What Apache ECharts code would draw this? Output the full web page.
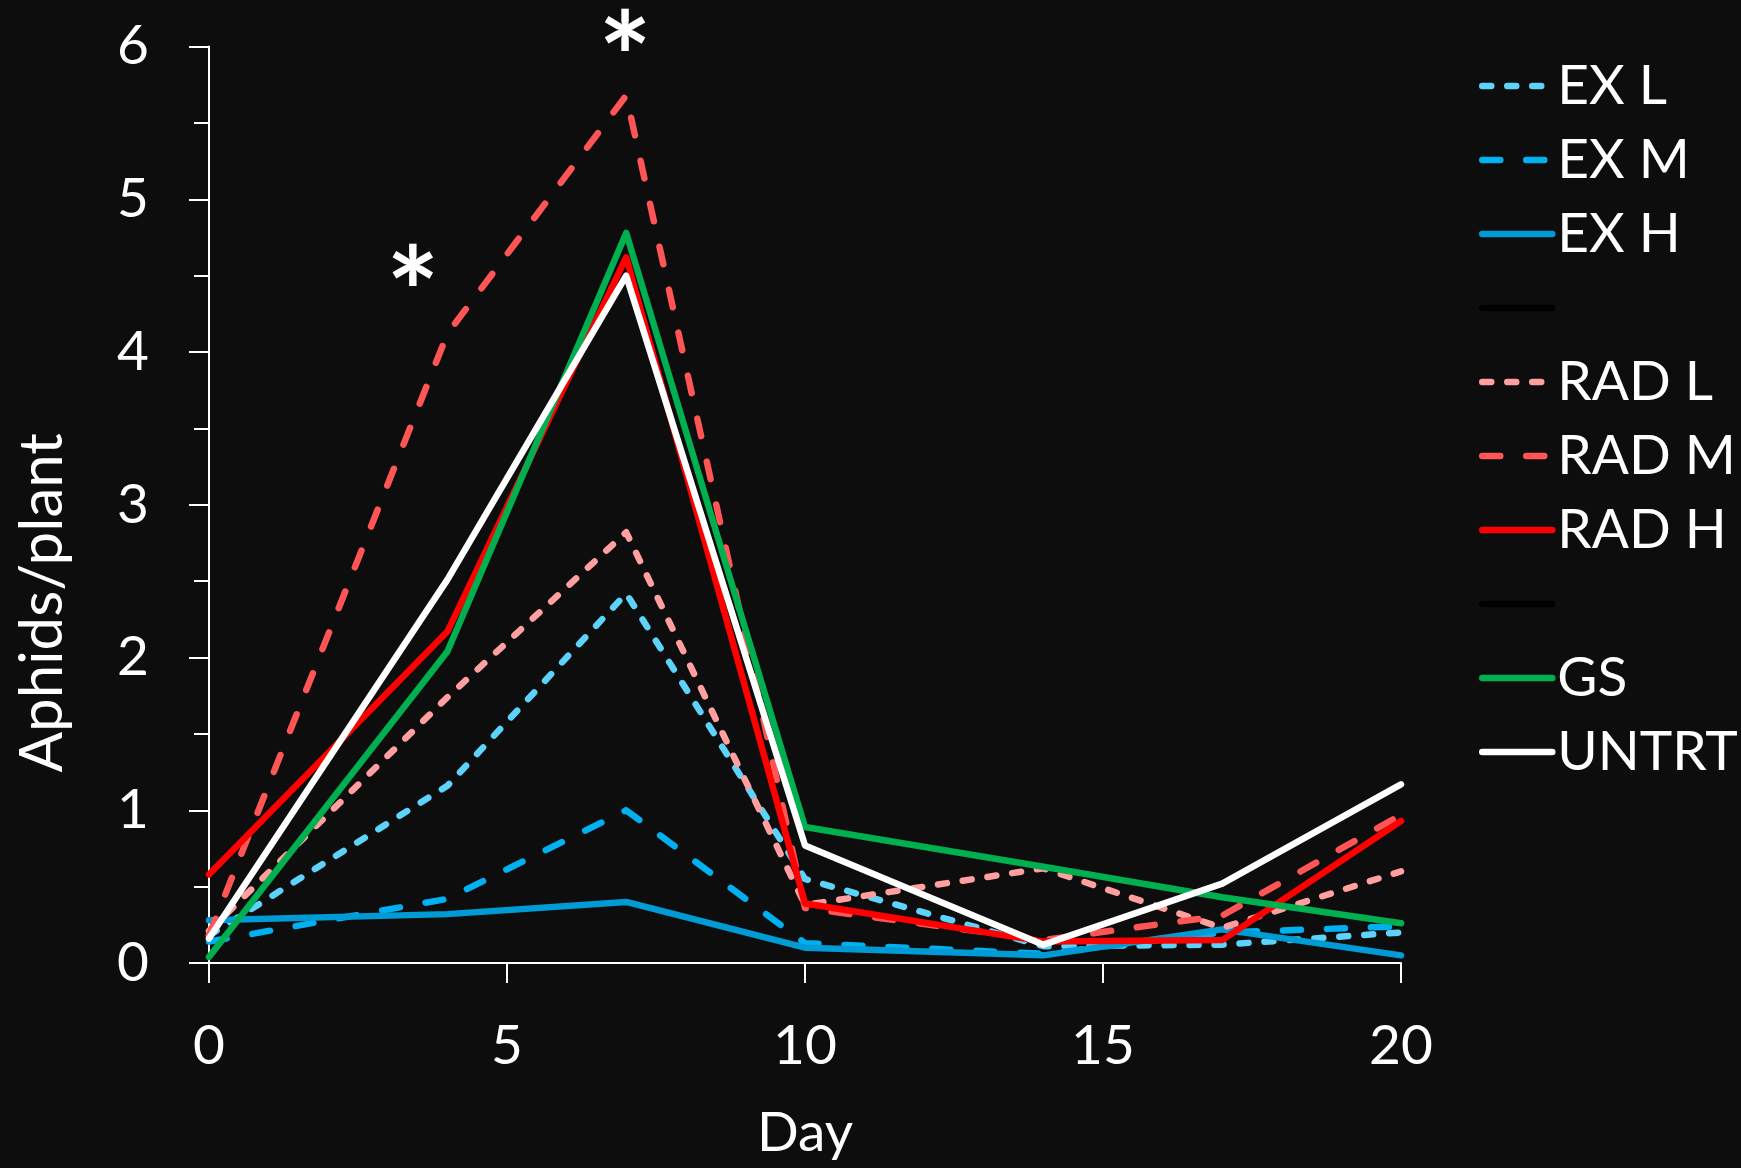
<!DOCTYPE html>
<html><head><meta charset="utf-8">
<script src="https://cdn.jsdelivr.net/npm/echarts@6/dist/echarts.min.js"></script>
<style>html,body{margin:0;padding:0;background:#0d0d0d;}#c{width:1741px;height:1168px;}</style>
</head><body><div id="c"></div>
<script>
const days = [0, 4, 7, 10, 14, 17, 20];
const exL = [0.18, 1.16, 2.42, 0.55, 0.11, 0.12, 0.20];
const exM = [0.14, 0.42, 1.00, 0.13, 0.06, 0.20, 0.24];
const exH = [0.28, 0.32, 0.40, 0.10, 0.05, 0.22, 0.05];
const radL = [0.21, 1.74, 2.82, 0.38, 0.62, 0.23, 0.60];
const radM = [0.18, 4.12, 5.68, 0.36, 0.15, 0.31, 0.97];
const radH = [0.58, 2.17, 4.62, 0.39, 0.14, 0.15, 0.93];
const gs = [0.04, 2.04, 4.78, 0.89, 0.63, 0.43, 0.26];
const untrt = [0.16, 2.51, 4.50, 0.77, 0.12, 0.52, 1.17];
const legendNames = ['EX L', 'EX M', 'EX H', ' ', 'RAD L', 'RAD M', 'RAD H', '  ', 'GS', 'UNTRT'];
const stars = [[3.42, 4.58], [6.98, 6.12]];

const FONT = 'Lato';
const W = 6.5;
const shortDash = [9, 16];
const longDash = [18, 26];

function mk(name, vals, color, dash) {
  return {
    name: name, type: 'line', symbol: 'none', smooth: false,
    data: vals ? days.map((d, i) => [d, vals[i]]) : [],
    itemStyle: { color: color },
    lineStyle: { color: color, width: W, type: dash || 'solid', cap: 'round', join: 'round' },
    emphasis: { disabled: true }
  };
}

const chart = echarts.init(document.getElementById('c'));
chart.setOption({
  backgroundColor: '#0d0d0d',
  animation: false,
  textStyle: { fontFamily: FONT },
  grid: { left: 209, right: 340, top: 46.6, bottom: 205, containLabel: false },
  legend: {
    orient: 'vertical', left: 1479, top: 56, padding: 0,
    itemWidth: 70, itemHeight: 14, itemGap: 14, selectedMode: false,
    itemStyle: { opacity: 0 },
    lineStyle: { width: W, cap: 'round' },
    data: legendNames,
    textStyle: { color: '#fff', fontSize: 55, lineHeight: 60, fontFamily: FONT, padding: [0, 0, 0, 0] }
  },
  xAxis: {
    type: 'value', min: 0, max: 20, interval: 5,
    name: 'Day', nameLocation: 'middle', nameGap: 140,
    nameTextStyle: { color: '#fff', fontSize: 55, lineHeight: 60, fontFamily: FONT },
    axisLine: { lineStyle: { color: '#fff', width: 2 } },
    axisTick: { show: true, length: 20, lineStyle: { color: '#fff', width: 2 } },
    splitLine: { show: false },
    axisLabel: { color: '#fff', fontSize: 55, margin: 56, fontFamily: FONT }
  },
  yAxis: {
    type: 'value', min: 0, max: 6, interval: 1,
    name: 'Aphids/plant', nameLocation: 'middle', nameGap: 136,
    nameTextStyle: { color: '#fff', fontSize: 60, fontFamily: FONT, padding: [0, 196, 0, 0] },
    axisLine: { show: true, lineStyle: { color: '#fff', width: 2 } },
    axisTick: { show: true, length: 20, lineStyle: { color: '#fff', width: 2 } },
    minorTick: { show: true, splitNumber: 2, length: 15, lineStyle: { color: '#fff', width: 2 } },
    splitLine: { show: false },
    axisLabel: { color: '#fff', fontSize: 55, margin: 60, fontFamily: FONT }
  },
  series: [
    mk('EX L', exL, '#5DD3FA', shortDash),
    mk('EX M', exM, '#00B0F0', longDash),
    mk('EX H', exH, '#009BD4'),
    mk(' ', null, '#000000'),
    mk('RAD L', radL, '#FF9F9F', shortDash),
    mk('RAD M', radM, '#FF5555', longDash),
    mk('RAD H', radH, '#FF0000'),
    mk('  ', null, '#000000'),
    mk('GS', gs, '#00B050'),
    mk('UNTRT', untrt, '#FFFFFF'),
    {
      type: 'scatter', name: 'sig', data: stars, symbolSize: 1, clip: false,
      itemStyle: { color: 'rgba(0,0,0,0)', opacity: 1 }, silent: true,
      label: { show: true, position: 'inside', formatter: '*', color: '#ffffff', opacity: 1, fontSize: 125, fontWeight: 'bold', fontFamily: FONT, offset: [0, 34] }
    }
  ]
});
</script>
</body></html>
